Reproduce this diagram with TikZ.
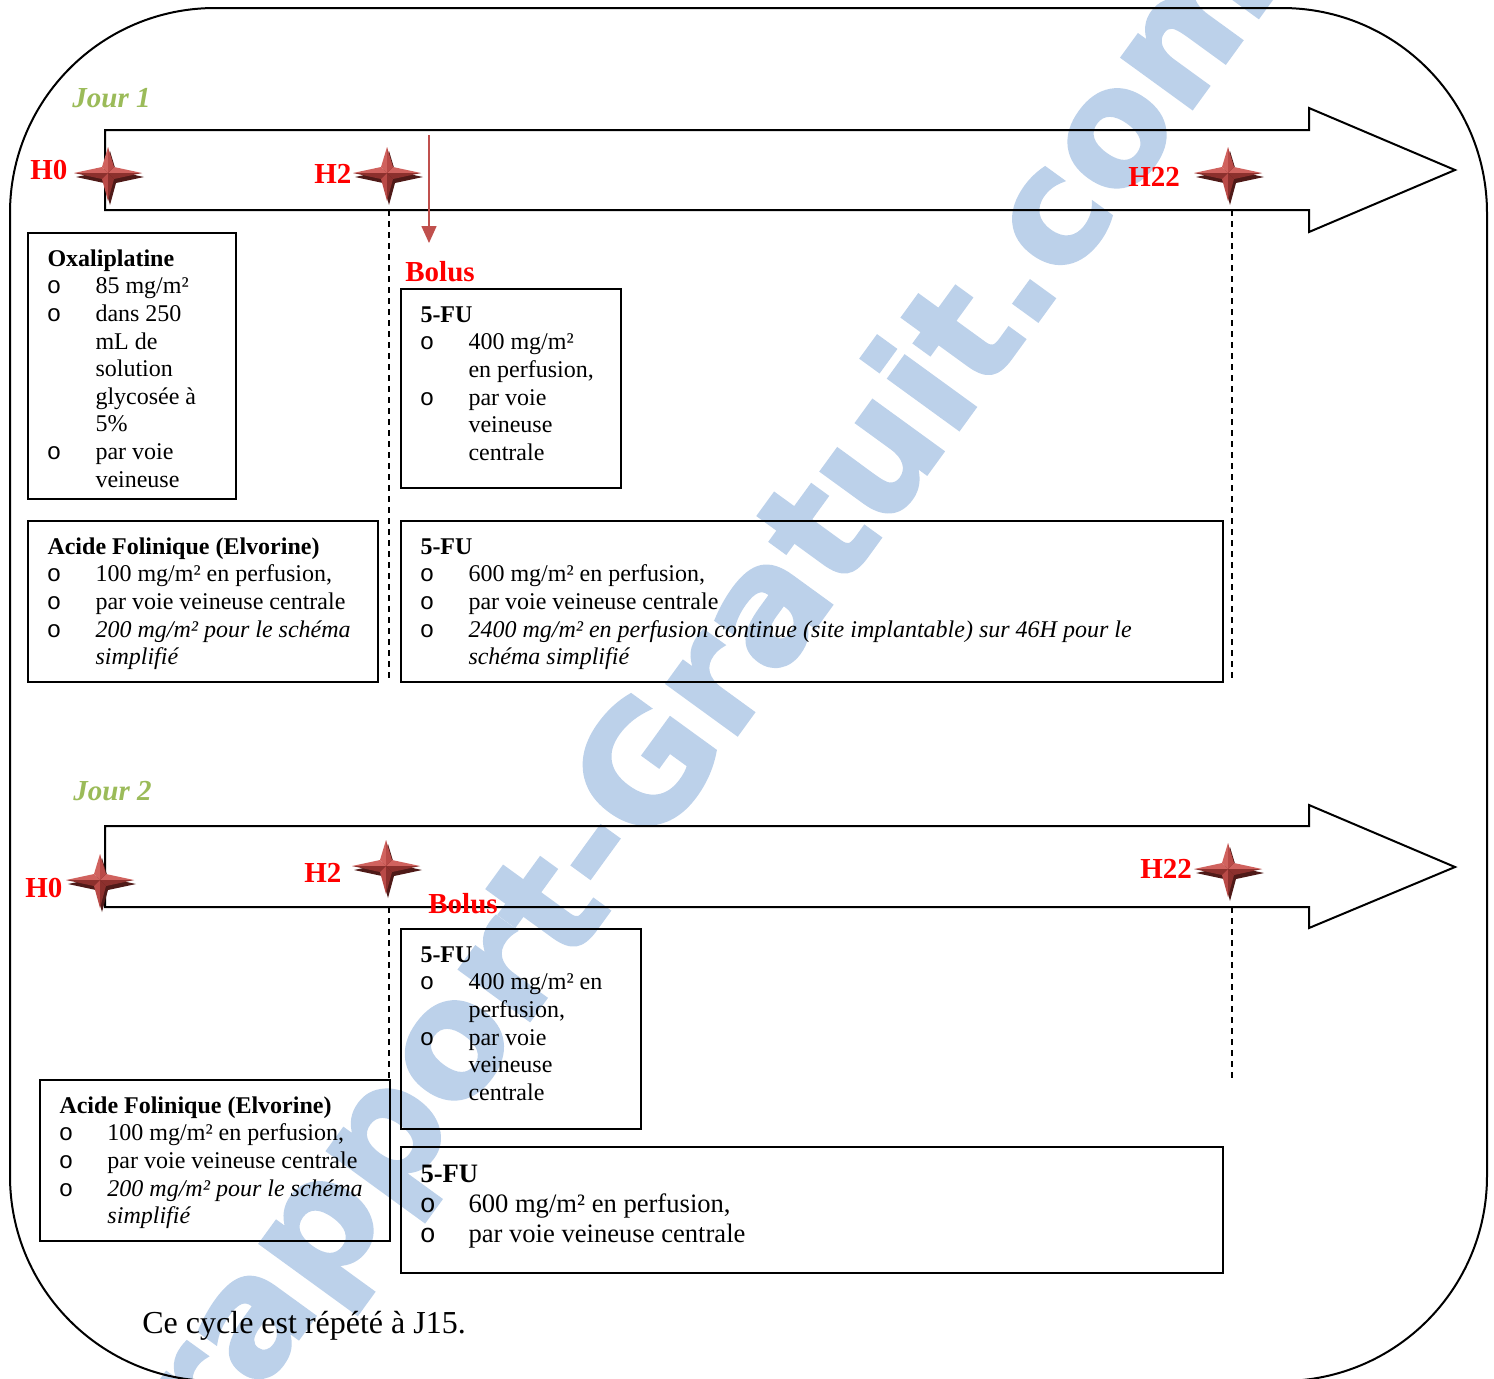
\documentclass[tikz,border=0pt]{standalone}
\usepackage{fontspec}
\setmainfont{Liberation Serif}
\newfontfamily\bulfont{Liberation Mono}
\newfontfamily\markfont{DejaVu Sans}[BoldFont={DejaVu Sans Bold},BoldFeatures={FakeBold=1.5}]
\usetikzlibrary{arrows.meta}

\definecolor{starred}{HTML}{C0504D}
\definecolor{starlight}{HTML}{D0625E}
\definecolor{starmid}{HTML}{B94A47}
\definecolor{stardeep}{HTML}{8C302D}
\definecolor{starshadow}{HTML}{4F1A18}
\definecolor{jourgreen}{HTML}{9BBB59}
\definecolor{markblue}{RGB}{188,209,234}
\definecolor{hourred}{HTML}{FF0000}

% list items: small circle bullet, then text at a fixed indent
\newcommand\itm[1]{\makebox[24pt][l]{\hspace*{-0.3pt}\bulfont o}#1}
\newcommand\cnt[1]{\hspace*{24pt}#1}
% top-aligned text block of given width and height
\newcommand\boxtext[3]{\parbox[t][#2][t]{#1}{\raggedright\strut #3}}

% four-pointed bevelled star centred on a named coordinate
\newcommand\bevelstar[1]{%
  \begin{scope}[shift={(#1)}]
    \fill[starshadow] (36,4) -- (8,10) -- (2,32) -- (-4,10) -- (-32,4) -- (-4,-2) -- (2,-22) -- (8,-2) -- cycle;
    \fill[starlight] (-34,0) -- (0,0) -- (-6,-6) -- cycle;
    \fill[stardeep]  (-34,0) -- (0,0) -- (-6,6) -- cycle;
    \fill[starlight] (34,0) -- (0,0) -- (6,-6) -- cycle;
    \fill[stardeep]  (34,0) -- (0,0) -- (6,6) -- cycle;
    \fill[starlight] (0,-26) -- (0,0) -- (-6,-6) -- cycle;
    \fill[starmid]   (0,-26) -- (0,0) -- (6,-6) -- cycle;
    \fill[starmid]   (0,28) -- (0,0) -- (-6,6) -- cycle;
    \fill[stardeep]  (0,28) -- (0,0) -- (6,6) -- cycle;
  \end{scope}}

\begin{document}
\begin{tikzpicture}[x=0.5pt,y=-0.5pt,
  frame/.style={draw, line width=1pt, rounded corners=102.5pt},
  timeline/.style={draw, line width=1pt, line join=miter},
  drugbox/.style={draw, line width=1pt, anchor=north west, inner xsep=9.75pt, inner ysep=7pt,
                  font=\fontsize{12pt}{13.8pt}\selectfont},
  bigbox/.style={drugbox, font=\fontsize{13.3pt}{15pt}\selectfont},
  hour/.style={anchor=base west, inner sep=0, text=hourred, font=\bfseries\fontsize{14.5pt}{17pt}\selectfont},
  day/.style={anchor=base west, inner sep=0, text=jourgreen, font=\bfseries\itshape\fontsize{14.5pt}{17pt}\selectfont},
  guide/.style={line width=0.75pt, dash pattern=on 3pt off 2.5pt},
  bolusarrow/.style={draw=starred, line width=0.8pt, -{Triangle[width=7.5pt,length=8.5pt]}}]

\useasboundingbox (0,0) rectangle (1494,1378);
\clip (0,0) rectangle (1494,1378);

% background mark
\node[rotate=54, inner sep=0, text=markblue,
      font=\markfont\bfseries\fontsize{80pt}{86pt}\selectfont] (mark) at (712,695) {rapport-Gratuit.com};

% outer frame
\draw[frame] (10,8) rectangle (1487,1381);

% ---------------- Day 1 ----------------
\node[day] (jour1) at (72,107) {Jour 1};
\draw[timeline] (105,130) -- (1309,130) -- (1309,108) -- (1455,170) -- (1309,232) -- (1309,210) -- (105,210) -- cycle;

\coordinate (s10) at (108,173);
\coordinate (s12) at (387,173);
\coordinate (s122) at (1228,173);
\bevelstar{s10}
\bevelstar{s12}
\bevelstar{s122}
\node[hour] (h10) at (30,179) {H0};
\node[hour] (h12) at (314,183) {H2};
\node[hour] (h122) at (1128,186) {H22};

\coordinate (g12top) at (389,210);
\coordinate (g12bot) at (389,682);
\coordinate (g122top) at (1232,210);
\coordinate (g122bot) at (1232,682);
\draw[guide] (g12top) -- (g12bot);
\draw[guide] (g122top) -- (g122bot);

\coordinate (bolstart) at (429,135);
\coordinate (boltip) at (429,243);
\draw[bolusarrow] (bolstart) -- (boltip);
\node[hour] (bolus1) at (405,281) {Bolus};

\node[drugbox] (oxa) at (27,232) {\boxtext{84.5pt}{119pt}{%
  \textbf{Oxaliplatine}\\
  \itm{85 mg/m²}\\
  \itm{dans 250}\\
  \cnt{mL de}\\
  \cnt{solution}\\
  \cnt{glycosée à}\\
  \cnt{5\%}\\
  \itm{par voie}\\
  \cnt{veineuse}}};

\node[drugbox] (fuA) at (400,288) {\boxtext{90.5pt}{85.5pt}{%
  \textbf{5-FU}\\
  \itm{400 mg/m²}\\
  \cnt{en perfusion,}\\
  \itm{par voie}\\
  \cnt{veineuse}\\
  \cnt{centrale}}};

\node[drugbox] (acideA) at (27,520) {\boxtext{155.5pt}{66.5pt}{%
  \textbf{Acide Folinique (Elvorine)}\\
  \itm{100 mg/m² en perfusion,}\\
  \itm{par voie veineuse centrale}\\
  \itm{\textit{200 mg/m² pour le schéma}}\\
  \cnt{\textit{simplifié}}}};

\node[drugbox] (fuB) at (400,520) {\boxtext{391.5pt}{66.5pt}{%
  \textbf{5-FU}\\
  \itm{600 mg/m² en perfusion,}\\
  \itm{par voie veineuse centrale}\\
  \itm{\textit{2400 mg/m² en perfusion continue (site implantable) sur 46H pour le}}\\
  \cnt{\textit{schéma simplifié}}}};

% ---------------- Day 2 ----------------
\node[day] (jour2) at (73,800) {Jour 2};
\draw[timeline] (105,826) -- (1309,826) -- (1309,805) -- (1455,867) -- (1309,928) -- (1309,907) -- (105,907) -- cycle;

\coordinate (s20) at (100,880);
\coordinate (s22) at (386,866);
\coordinate (s222) at (1228,869);
\bevelstar{s20}
\bevelstar{s22}
\bevelstar{s222}
\node[hour] (h20) at (25,897) {H0};
\node[hour] (h22) at (304,882) {H2};
\node[hour] (h222) at (1140,878) {H22};
\node[hour] (bolus2) at (428,913) {Bolus};

\coordinate (g22top) at (389,907);
\coordinate (g22bot) at (389,1079);
\coordinate (g222top) at (1232,907);
\coordinate (g222bot) at (1232,1080);
\draw[guide] (g22top) -- (g22bot);
\draw[guide] (g222top) -- (g222bot);

\node[drugbox] (fuC) at (400,928) {\boxtext{100.5pt}{86pt}{%
  \textbf{5-FU}\\
  \itm{400 mg/m² en}\\
  \cnt{perfusion,}\\
  \itm{par voie}\\
  \cnt{veineuse}\\
  \cnt{centrale}}};

\node[drugbox] (acideB) at (39,1079) {\boxtext{155.5pt}{66.5pt}{%
  \textbf{Acide Folinique (Elvorine)}\\
  \itm{100 mg/m² en perfusion,}\\
  \itm{par voie veineuse centrale}\\
  \itm{\textit{200 mg/m² pour le schéma}}\\
  \cnt{\textit{simplifié}}}};

\node[bigbox] (fuD) at (400,1146) {\boxtext{391.5pt}{49pt}{%
  \textbf{5-FU}\\
  \itm{600 mg/m² en perfusion,}\\
  \itm{par voie veineuse centrale}}};

\node[anchor=base west, inner sep=0, font=\fontsize{16pt}{19pt}\selectfont] (cycle) at (142,1333) {Ce cycle est répété à J15.};

\end{tikzpicture}
\end{document}
